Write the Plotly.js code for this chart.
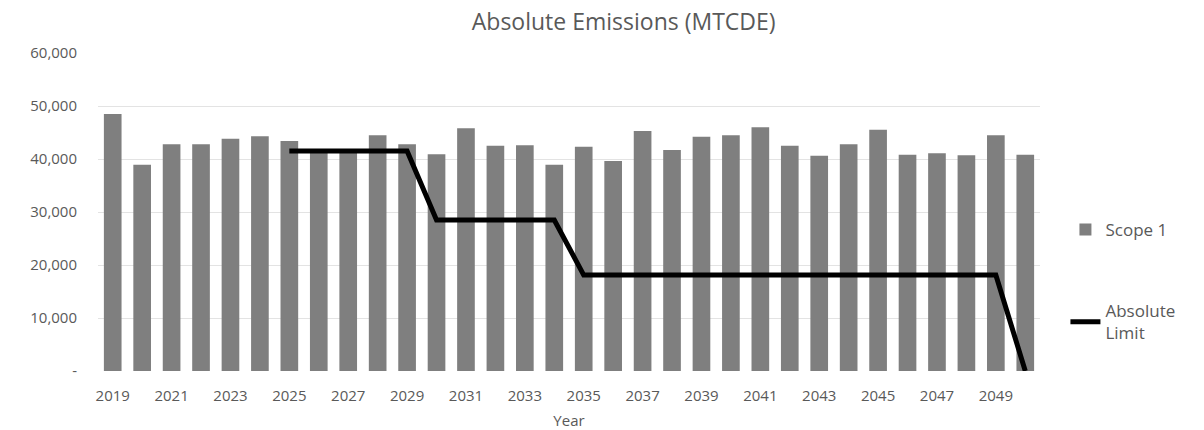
<!DOCTYPE html>
<html>
<head>
<meta charset="utf-8">
<script src="https://cdn.plot.ly/plotly-3.0.1.min.js"></script>
<style>html,body{margin:0;padding:0;background:#fff;}#chart{width:1204px;height:430px;}</style>
</head>
<body>
<div id="chart"></div>
<script>
const years = ["2019","2020","2021","2022","2023","2024","2025","2026","2027","2028","2029","2030","2031","2032","2033","2034","2035","2036","2037","2038","2039","2040","2041","2042","2043","2044","2045","2046","2047","2048","2049","2050"];
const scope1 = [48500,38900,42800,42800,43800,44300,43400,41200,41200,44500,42800,40900,45800,42500,42600,38900,42300,39600,45300,41700,44200,44500,46000,42500,40600,42800,45500,40800,41100,40700,44500,40800];
const limitYears = ["2025","2026","2027","2028","2029","2030","2031","2032","2033","2034","2035","2036","2037","2038","2039","2040","2041","2042","2043","2044","2045","2046","2047","2048","2049","2050"];
const absoluteLimit = [41500,41500,41500,41500,41500,28500,28500,28500,28500,28500,18100,18100,18100,18100,18100,18100,18100,18100,18100,18100,18100,18100,18100,18100,18100,0];
const xTickYears = ["2019","2021","2023","2025","2027","2029","2031","2033","2035","2037","2039","2041","2043","2045","2047","2049"];
const yTickVals = [0,10000,20000,30000,40000,50000,60000];
const yTickText = ["-","10,000","20,000","30,000","40,000","50,000","60,000"];

const font = "'Open Sans', 'Liberation Sans', sans-serif";
const textColor = "#595959";

const data = [
  {type:"bar", name:"Scope 1", x:years, y:scope1, marker:{color:"#7f7f7f"}, legendgroup:"a"},
  {type:"scatter", mode:"lines", name:"Absolute<br>Limit", x:limitYears, y:absoluteLimit, line:{color:"#000", width:5}, legendgroup:"b"}
];
const layout = {
  width:1204, height:430,
  margin:{l:98, r:164, t:53, b:59},
  paper_bgcolor:"#fff", plot_bgcolor:"#fff",
  font:{family:font, color:textColor, size:14},
  title:{text:"Absolute Emissions (MTCDE)", font:{family:font, size:23, color:textColor}, x:0.518, xanchor:"center", y:0.95, yanchor:"middle"},
  bargap:0.4,
  showlegend:true,
  legend:{x:1.027, xanchor:"left", y:0.5, yanchor:"top", traceorder:"grouped", tracegroupgap:56, font:{size:17, color:textColor}},
  xaxis:{type:"category", categoryorder:"array", categoryarray:years, tickvals:xTickYears, ticktext:xTickYears, showgrid:false, zeroline:false, showline:false, ticks:"", ticklabelstandoff:14, tickfont:{size:15, color:textColor},
         title:{text:"Year", font:{size:15, color:textColor}, standoff:12}},
  yaxis:{range:[0,60000], tickvals:yTickVals, ticktext:yTickText, showgrid:true, gridcolor:"#e3e3e3", gridwidth:1, zeroline:false, showline:false, ticks:"", ticklabelstandoff:20, tickfont:{size:15, color:textColor}, fixedrange:true}
};
Plotly.newPlot("chart", data, layout, {displayModeBar:false, staticPlot:true});
</script>
</body>
</html>
